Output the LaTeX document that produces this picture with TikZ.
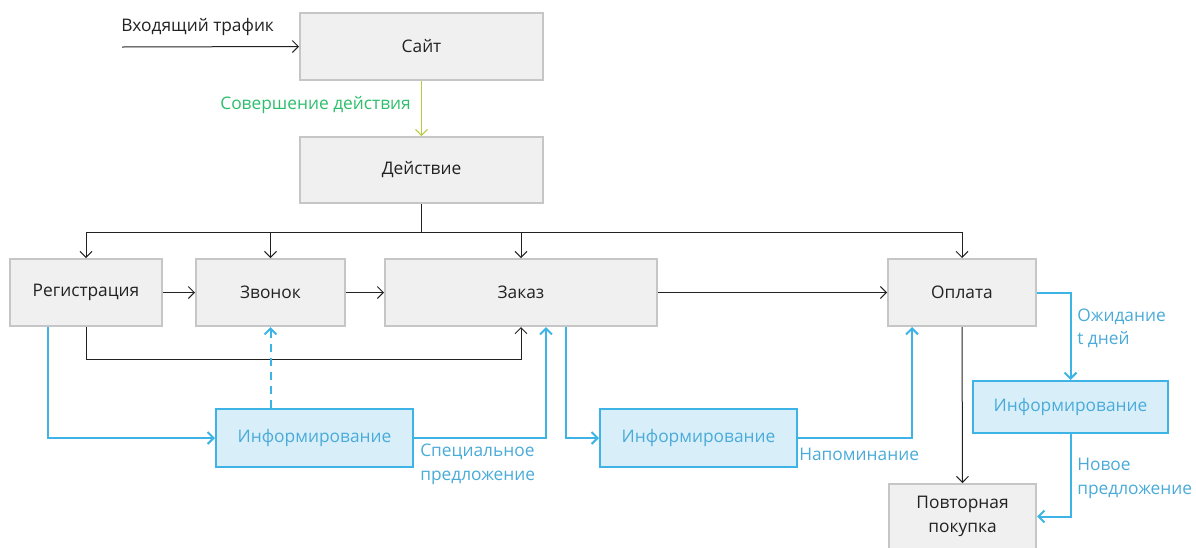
\documentclass[tikz,border=0pt]{standalone}
\usepackage{fontspec}
\setmainfont{Open Sans}
\usetikzlibrary{arrows.meta}
\definecolor{boxfill}{HTML}{F0F0F0}
\definecolor{boxline}{HTML}{C6C6C6}
\definecolor{infofill}{HTML}{D8EFFA}
\definecolor{infoline}{HTML}{3DB4E5}
\definecolor{infotext}{HTML}{4AABD9}
\definecolor{actgreen}{HTML}{2DBE6C}
\definecolor{actline}{HTML}{B8C93C}
\definecolor{ink}{HTML}{222222}
\begin{document}
\begin{tikzpicture}[x=0.75pt,y=-0.75pt,
  every node/.style={font=\fontsize{13}{17.5}\selectfont, text=ink},
  gbox/.style={draw=boxline, fill=boxfill, line width=1.5pt, inner sep=0pt, align=center},
  ibox/.style={draw=infoline, fill=infofill, line width=1.5pt, inner sep=0pt, text=infotext},
  tip/.style={-{Straight Barb[length=4.5pt,width=9pt]}},
  blk/.style={draw=ink, line width=0.75pt},
  blu/.style={draw=infoline, line width=1.5pt},
  lbl/.style={text=infotext, align=left, inner sep=0pt}]
\useasboundingbox (0,0) rectangle (1196,547);

% main boxes
\node[gbox, minimum width=182.25pt, minimum height=50.25pt] (site)   at (421.5,46.5) {Сайт};
\node[gbox, minimum width=182.25pt, minimum height=49.5pt]  (action) at (421.5,170)  {Действие};
\node[gbox, minimum width=114pt,    minimum height=50.25pt] (reg)    at (86,292.5)   {Регистрация};
\node[gbox, minimum width=111.75pt, minimum height=50.25pt] (call)   at (270.5,292.5) {Звонок};
\node[gbox, minimum width=204pt,    minimum height=50.25pt] (order)  at (521,292.5)  {Заказ};
\node[gbox, minimum width=111pt,    minimum height=50.25pt] (pay)    at (962,292.5)  {Оплата};
\node[gbox, minimum width=110.25pt, minimum height=48.75pt] (rep)    at (962.5,516.5) {Повторная\\покупка};

% information boxes
\node[ibox, minimum width=147.75pt, minimum height=43.5pt] (inf1) at (314.5,438) {Информирование};
\node[ibox, minimum width=147.75pt, minimum height=43.5pt] (inf2) at (698.5,438) {Информирование};
\node[ibox, minimum width=146.25pt, minimum height=39pt]   (inf3) at (1070.5,407) {Информирование};

% incoming traffic
\node[anchor=west, inner sep=0pt] (traffic) at (121,27) {Входящий трафик};
\coordinate (src) at (122,47);
\draw[blk, tip] (src) -- (site.west);

% site -> action
\draw[draw=actline, line width=0.75pt, tip] (site.south) -- (action.south |- action.north);
\node[anchor=east, inner sep=0pt, text=actgreen] (actlbl) at (411,105) {Совершение действия};

% distribution bus
\coordinate (bus) at (421.5,232);
\draw[blk] (action.south) -- (bus);
\draw[blk] (bus -| reg.north) -- (bus -| pay.north);
\foreach \n in {reg,call,order,pay}
  \draw[blk, tip] (bus -| \n.north) -- (\n.north);

% horizontal flow
\draw[blk, tip] (reg.east) -- (call.west);
\draw[blk, tip] (call.east) -- (order.west);
\draw[blk, tip] (order.east) -- (pay.west);
\draw[blk, tip] (reg.south) -- ++(0,32) -| (order.south);
\draw[blk, tip] (pay.south) -- (rep.north);

% information paths
\draw[blu, tip] ([xshift=-28.5pt]reg.south) |- (inf1.west);
\draw[blu, tip, dashed, dash pattern=on 6pt off 4.5pt] (call.south |- inf1.north) -- (call.south);
\draw[blu, tip] (inf1.east) -| ([xshift=18.75pt]order.south);
\draw[blu, tip] ([xshift=33.75pt]order.south) |- (inf2.west);
\draw[blu, tip] (inf2.east) -| ([xshift=-37.5pt]pay.south);
\draw[blu, tip] (pay.east) -| (inf3.north);
\draw[blu, tip] (inf3.south) |- (rep.east);

% path labels
\node[lbl, anchor=north west] (offer)  at (420,444) {Специальное\\предложение};
\node[lbl, anchor=west]       (remind) at (799,454) {Напоминание};
\node[lbl, anchor=west]       (wait)   at (1077,328.5) {Ожидание\\t дней};
\node[lbl, anchor=west]       (newoff) at (1077,478.5) {Новое\\предложение};
\end{tikzpicture}
\end{document}
